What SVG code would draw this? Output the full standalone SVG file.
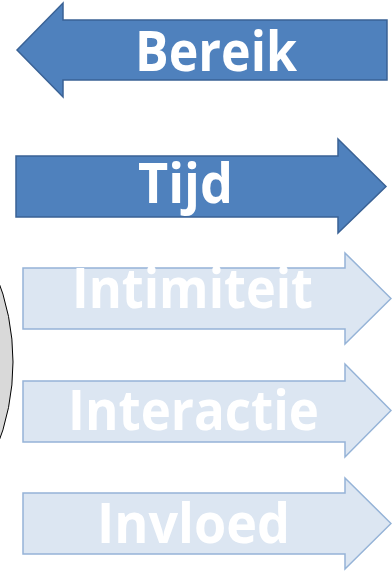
<svg xmlns="http://www.w3.org/2000/svg" width="392" height="573" viewBox="0 0 392 573">
<style>
.dark{fill:#4f81bd;stroke:#3a6295;stroke-width:1.5}
.light{fill:#dce6f2;stroke:#95b3d7;stroke-width:1.5}
.lbl{font-family:"Open Sans","Noto Sans",sans-serif;font-weight:700;font-size:55px;fill:#ffffff}
</style>
<rect width="392" height="573" fill="#ffffff"/>
<g id="circle">
<circle cx="-221" cy="362" r="234" fill="#d9d9d9" stroke="#000000" stroke-width="1"/>
</g>
<g id="bereik">
<polygon class="dark" points="17,50 63,3 63,20 387,20 387,80 63,80 63,97"/>
<text class="lbl" x="135" y="71" textLength="162" lengthAdjust="spacingAndGlyphs">Bereik</text>
</g>
<g id="tijd">
<polygon class="dark" points="16,156 338,156 338,139 386,186.5 338,233 338,217 16,217"/>
<text class="lbl" x="138" y="203" textLength="95" lengthAdjust="spacingAndGlyphs">Tijd</text>
</g>
<g id="intimiteit">
<polygon class="light" points="23,268 345,268 345,253 391,298.5 345,344 345,329 23,329"/>
<text class="lbl" x="72" y="308" textLength="241" lengthAdjust="spacingAndGlyphs">Intimiteit</text>
</g>
<g id="interactie">
<polygon class="light" points="23,381 345,381 345,364 391,410.5 345,457 345,442 23,442"/>
<text class="lbl" x="68" y="430" textLength="251" lengthAdjust="spacingAndGlyphs">Interactie</text>
</g>
<g id="invloed">
<polygon class="light" points="23,493 345,493 345,478 391,523.5 345,569 345,554 23,554"/>
<text class="lbl" x="97" y="543" textLength="193" lengthAdjust="spacingAndGlyphs">Invloed</text>
</g>
<g id="connectors"/>
</svg>
